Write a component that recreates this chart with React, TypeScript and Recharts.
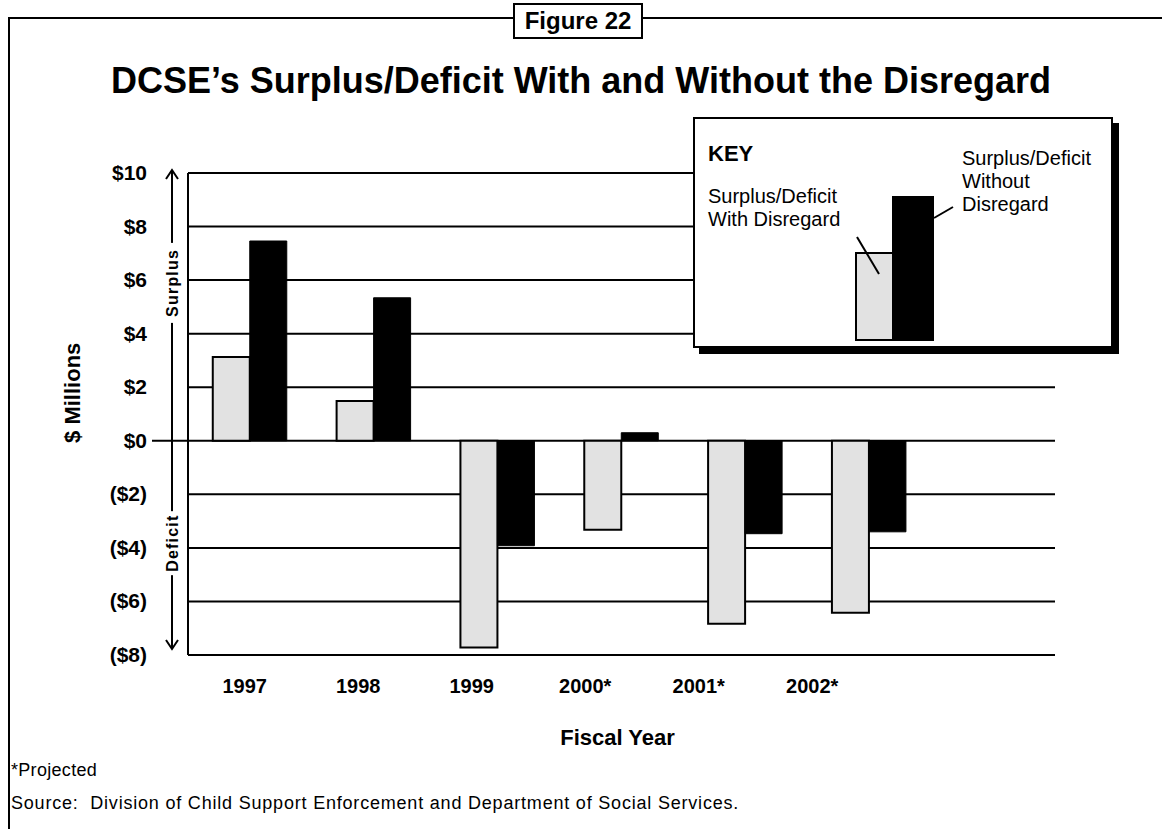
import React from 'react';
import { BarChart, Bar, XAxis, YAxis, CartesianGrid, Legend } from 'recharts';

const categories = ['1997', '1998', '1999', '2000*', '2001*', '2002*'];
const withDisregard = [3.13, 1.49, -7.72, -3.32, -6.83, -6.42];
const withoutDisregard = [7.46, 5.34, -3.92, 0.3, -3.47, -3.4];
const yTicks = [10, 8, 6, 4, 2, 0, -2, -4, -6, -8];

const LIGHT = '#e2e2e2';
const DARK = '#000000';
const FONT = '"Liberation Sans", Arial, Helvetica, sans-serif';

const data = categories.map((c, i) => ({
  year: c,
  withD: withDisregard[i],
  withoutD: withoutDisregard[i],
}));

const fmtMoney = (v: number) => (v < 0 ? `($${Math.abs(v)})` : `$${v}`);

const YTick = (props: any) => {
  const { x, y, payload } = props;
  const v = payload.value;
  return (
    <g>
      {v === 0 && <line x1={x + 5} x2={x + 41} y1={y} y2={y} stroke="#000" strokeWidth={2} />}
      <text x={x} y={y} dy={7} textAnchor="end" fontFamily={FONT} fontWeight="bold" fontSize={21} fill="#000">
        {fmtMoney(v)}
      </text>
    </g>
  );
};

const XTick = (props: any) => {
  const { x, y, payload } = props;
  return (
    <text x={x} y={y + 8} textAnchor="middle" fontFamily={FONT} fontWeight="bold" fontSize={20} fill="#000">
      {payload.value}
    </text>
  );
};

const AxisDecor = (props: any) => {
  const vb = props.viewBox || { x: 108, y: 173, width: 80, height: 482 };
  const ax = vb.x + vb.width - 16;
  const top = vb.y - 3;
  const bot = vb.y + vb.height - 6;
  const sy = vb.y + vb.height * 0.228;
  const dy = vb.y + vb.height * 0.768;
  const my = vb.y + vb.height * 0.456;
  return (
    <g>
      <line x1={ax} x2={ax} y1={top} y2={bot} stroke="#000" strokeWidth={2} />
      <polyline points={`${ax - 6},${top + 9} ${ax},${top} ${ax + 6},${top + 9}`} fill="none" stroke="#000" strokeWidth={2} />
      <polyline points={`${ax - 6},${bot - 9} ${ax},${bot} ${ax + 6},${bot - 9}`} fill="none" stroke="#000" strokeWidth={2} />
      <rect x={ax - 10} y={sy - 40} width={20} height={80} fill="#fff" />
      <rect x={ax - 10} y={dy - 32} width={20} height={64} fill="#fff" />
      <text x={ax} y={sy} transform={`rotate(-90 ${ax} ${sy})`} dy={6} textAnchor="middle" fontFamily={FONT} fontWeight="bold" fontSize={16} letterSpacing={1.2} fill="#000">
        Surplus
      </text>
      <text x={ax} y={dy} transform={`rotate(-90 ${ax} ${dy})`} dy={6} textAnchor="middle" fontFamily={FONT} fontWeight="bold" fontSize={16} letterSpacing={1.2} fill="#000">
        Deficit
      </text>
      <text x={vb.x - 36} y={my} transform={`rotate(-90 ${vb.x - 36} ${my})`} dy={8} textAnchor="middle" fontFamily={FONT} fontWeight="bold" fontSize={22} fill="#000">
        $ Millions
      </text>
    </g>
  );
};

const KeyBox = () => (
  <div
    style={{
      width: 416,
      height: 227,
      border: '2px solid #000',
      background: '#fff',
      boxShadow: '6px 6px 0 #000',
      position: 'relative',
    }}
  >
    <svg width={416} height={227} style={{ position: 'absolute', left: 0, top: 0 }}>
      <text x={13} y={42} fontFamily={FONT} fontWeight="bold" fontSize={22} fill="#000">KEY</text>
      <text x={13} y={84} fontFamily={FONT} fontSize={20} fill="#000">Surplus/Deficit</text>
      <text x={13} y={107} fontFamily={FONT} fontSize={20} fill="#000">With Disregard</text>
      <text x={267} y={46} fontFamily={FONT} fontSize={20} fill="#000">Surplus/Deficit</text>
      <text x={267} y={69} fontFamily={FONT} fontSize={20} fill="#000">Without</text>
      <text x={267} y={92} fontFamily={FONT} fontSize={20} fill="#000">Disregard</text>
      <rect x={161} y={134} width={37} height={87} fill={LIGHT} stroke="#000" strokeWidth={2} />
      <rect x={198} y={78} width={40} height={143} fill={DARK} stroke="#000" strokeWidth={2} />
      <line x1={162} y1={118} x2={184} y2={155} stroke="#000" strokeWidth={2} />
      <line x1={239} y1={99} x2={258} y2={88} stroke="#000" strokeWidth={2} />
    </svg>
  </div>
);

export default function App() {
  return (
    <div style={{ position: 'absolute', left: 0, top: 0, width: 1162, height: 829, background: '#fff', overflow: 'hidden', fontFamily: FONT }}>
      {/* frame */}
      <div style={{ position: 'absolute', left: 8, top: 17, width: 1154, height: 2, background: '#000' }} />
      <div style={{ position: 'absolute', left: 8, top: 17, width: 2, height: 812, background: '#000' }} />
      <div
        style={{
          position: 'absolute', left: 513, top: 3, width: 126, height: 32, border: '2px solid #000', background: '#fff',
          fontWeight: 'bold', fontSize: 24, lineHeight: '32px', textAlign: 'center', color: '#000',
        }}
      >
        Figure 22
      </div>
      <div style={{ position: 'absolute', left: 0, top: 60, width: 1162, textAlign: 'center', fontWeight: 'bold', fontSize: 36, color: '#000' }}>
        DCSE’s Surplus/Deficit With and Without the Disregard
      </div>

      <div style={{ position: 'absolute', left: 0, top: 0 }}>
        <BarChart
          width={1162}
          height={829}
          data={data}
          margin={{ top: 173, right: 107, bottom: 144, left: 108 }}
          barCategoryGap="20%"
          barGap={0}
        >
          <CartesianGrid xAxisId="bars" vertical={false} stroke="#000" strokeWidth={2} />
          <XAxis xAxisId="bars" dataKey="year" hide padding={{ left: 0, right: 124 }} />
          <XAxis
            xAxisId="lbl"
            dataKey="year"
            padding={{ left: 0, right: 186 }}
            axisLine={false}
            tickLine={false}
            tickSize={0}
            tickMargin={0}
            height={30}
            interval={0}
            tick={<XTick />}
          />
          <YAxis
            width={80}
            domain={[-8, 10]}
            ticks={yTicks}
            interval={0}
            axisLine={{ stroke: '#000', strokeWidth: 2 }}
            tickLine={false}
            tickSize={0}
            tickMargin={41}
            tick={<YTick />}
            label={<AxisDecor />}
          />
          <Legend
            layout="vertical"
            align="center"
            verticalAlign="middle"
            content={<KeyBox />}
            wrapperStyle={{ position: 'absolute', left: 693, top: 117, width: 420, height: 231 }}
          />
          <Bar xAxisId="bars" dataKey="withD" name="Surplus/Deficit With Disregard" fill={LIGHT} stroke="#000" strokeWidth={2} isAnimationActive={false} />
          <Bar xAxisId="bars" dataKey="withoutD" name="Surplus/Deficit Without Disregard" fill={DARK} stroke="#000" strokeWidth={1} isAnimationActive={false} />
        </BarChart>
      </div>

      <div style={{ position: 'absolute', left: 0, width: 1235, top: 725, textAlign: 'center', fontWeight: 'bold', fontSize: 22, color: '#000' }}>
        Fiscal Year
      </div>
      <div style={{ position: 'absolute', left: 11, top: 760, fontSize: 18, letterSpacing: 0.3, color: '#000' }}>*Projected</div>
      <div style={{ position: 'absolute', left: 11, top: 793, fontSize: 18, letterSpacing: 0.8, color: '#000', whiteSpace: 'pre' }}>
        Source:  Division of Child Support Enforcement and Department of Social Services.
      </div>
    </div>
  );
}
